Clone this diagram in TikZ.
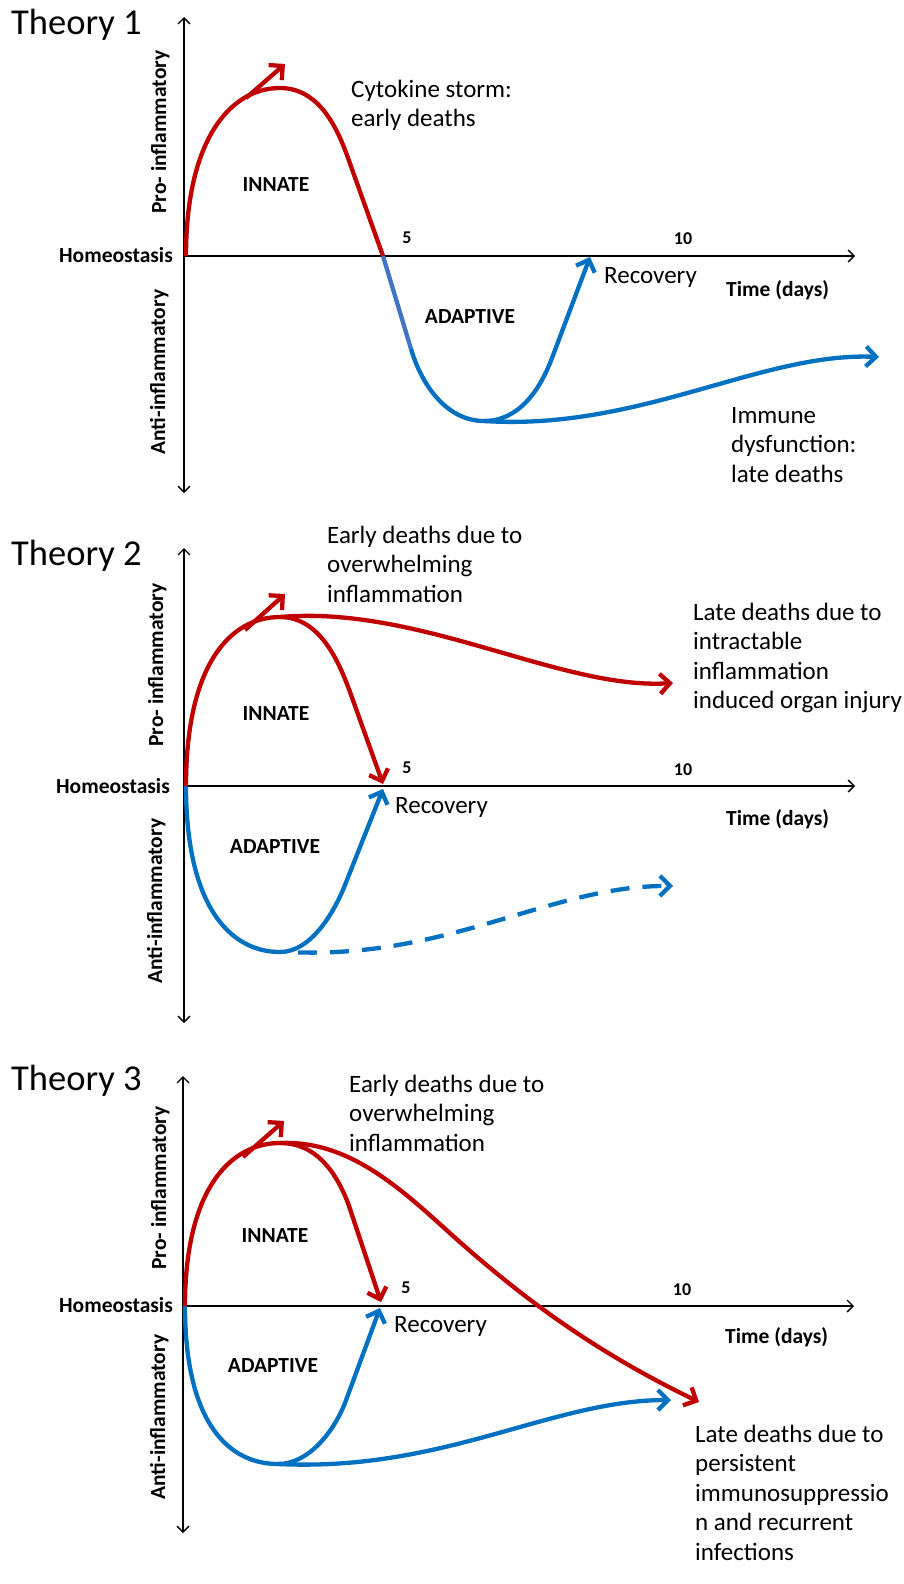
\documentclass[tikz,border=0pt]{standalone}
\usepackage{fontspec}
\setmainfont{Carlito}
\usetikzlibrary{arrows.meta}
\definecolor{cred}{RGB}{192,0,0}
\definecolor{cblue}{RGB}{0,112,192}
\definecolor{cmid}{RGB}{68,114,196}
\tikzset{
 axisline/.style={line width=1.3pt, draw=black},
 axarr/.style={-{Straight Barb[length=6pt,width=12pt]}},
 axarr2/.style={{Straight Barb[length=6pt,width=12pt]}-{Straight Barb[length=6pt,width=12pt]}},
 curve/.style={line width=4.3pt, line join=round},
 redc/.style={curve, draw=cred},
 bluec/.style={curve, draw=cblue},
 midc/.style={curve, draw=cmid},
 tipc/.style={-{Straight Barb[length=10pt,width=20pt]}},
 title/.style={font=\fontsize{36.5}{44}\selectfont, anchor=base west, inner sep=0pt},
 lbl/.style={font=\bfseries\fontsize{21.5}{26}\selectfont, inner sep=0pt},
 tick/.style={font=\bfseries\fontsize{18}{22}\selectfont, anchor=base, inner sep=0pt},
 body/.style={font=\fontsize{25}{29.5}\selectfont, align=left, anchor=north west, inner sep=0pt},
 bodyline/.style={font=\fontsize{25}{29.5}\selectfont, anchor=base west, inner sep=0pt},
 vlbl/.style={lbl, rotate=90, anchor=base},
}
\begin{document}
\begin{tikzpicture}[x=1pt,y=-1pt]
\useasboundingbox (0,0) rectangle (904,1584);

% ================= Theory 1 =================
\coordinate (v1b) at (184,493);
\coordinate (v1t) at (184,17);
\coordinate (h1a) at (184,256);
\coordinate (h1b) at (855,256);
\draw[axisline,axarr2] (v1b) -- (v1t);
\draw[axisline,axarr] (h1a) -- (h1b);

\node[title] (t1) at (11,35) {Theory 1};
\node[lbl,anchor=base east] (h1) at (173,262) {Homeostasis};
\node[vlbl] (pro1) at (166,132) {Pro- inflammatory};
\node[vlbl] (anti1) at (165,372) {Anti-inflammatory};
\node[lbl,anchor=base] (in1) at (276,191) {INNATE};
\node[lbl,anchor=base] (ad1) at (470,323) {ADAPTIVE};
\node[tick] (f1) at (407,243) {5};
\node[tick] (ten1) at (683,244) {10};
\node[bodyline] (rec1t) at (604,283) {Recovery};
\node[lbl,anchor=base west] (time1) at (726,296) {Time (days)};
\node[body] (cs1) at (351,76.35) {\strut Cytokine storm:\\early deaths};
\node[body] (im1) at (731,402.35) {\strut Immune\\dysfunction:\\late deaths};

\coordinate (O1) at (186,256);
\coordinate (pk1) at (280,88);
\coordinate (k1) at (348,158);
\coordinate (c1) at (383,256);
\coordinate (k1b) at (411,349);
\coordinate (bt1) at (484,421);
\coordinate (rk1) at (552,358);
\coordinate (rc1) at (590,257);
\coordinate (e1) at (879,357);
\coordinate (sa1) at (246,98);
\coordinate (sb1) at (285,64);

\draw[redc] (O1) .. controls +(0,-116) and +(-50,0) .. (pk1)
   .. controls +(40,0) and +(-10,-28) .. (k1) -- (c1);
\draw[redc,tipc] (sa1) -- (sb1);
\draw[midc] (c1) -- (k1b);
\draw[bluec] (k1b) .. controls +(12,40) and +(-35,0) .. (bt1);
\draw[bluec,tipc] (bt1) .. controls +(35,0) and +(-12,32) .. (rk1) -- (rc1);
\draw[bluec,tipc] (bt1) .. controls +(156,10) and +(-118,-5) .. (e1);

% ================= Theory 2 =================
\coordinate (v2b) at (184,1023);
\coordinate (v2t) at (184,548);
\coordinate (h2a) at (184,786);
\coordinate (h2b) at (855,786);
\draw[axisline,axarr2] (v2b) -- (v2t);
\draw[axisline,axarr] (h2a) -- (h2b);

\node[title] (t2) at (11,565) {Theory 2};
\node[lbl,anchor=base east] (h2) at (170,793) {Homeostasis};
\node[vlbl] (pro2) at (163,665) {Pro- inflammatory};
\node[vlbl] (anti2) at (162,901) {Anti-inflammatory};
\node[lbl,anchor=base] (in2) at (276,720) {INNATE};
\node[lbl,anchor=base] (ad2) at (275,853) {ADAPTIVE};
\node[tick] (f2) at (407,773) {5};
\node[tick] (ten2) at (683,775) {10};
\node[bodyline] (rec2t) at (395,813) {Recovery};
\node[lbl,anchor=base west] (time2) at (726,825) {Time (days)};
\node[body] (ed2) at (327,522.35) {\strut Early deaths due to\\overwhelming\\inflammation};
\node[body] (ld2) at (693,599.35) {\strut Late deaths due to\\intractable\\inflammation\\induced organ injury};

\coordinate (O2) at (186,786);
\coordinate (pk2) at (280,617);
\coordinate (k2) at (350,692);
\coordinate (tr2) at (383,784);
\coordinate (er2) at (673,683);
\coordinate (bt2) at (280,952);
\coordinate (kb2) at (345,885);
\coordinate (tb2) at (383,789);
\coordinate (db2) at (288,952);
\coordinate (eb2) at (673,886);
\coordinate (sa2) at (245,630);
\coordinate (sb2) at (285,594);

\draw[redc,tipc] (O2) .. controls +(0,-121) and +(-50,0) .. (pk2)
   .. controls +(40,0) and +(-11,-30) .. (k2) -- (tr2);
\draw[redc,tipc] (sa2) -- (sb2);
\draw[redc,tipc] (pk2) .. controls +(140,-12) and +(-112,7) .. (er2);
\draw[bluec,tipc] (O2) .. controls +(0,120) and +(-50,0) .. (bt2)
   .. controls +(30,0) and +(-12,30) .. (kb2) -- (tb2);
\draw[bluec,tipc,dash pattern=on 19pt off 13pt,dash phase=22pt] (db2) .. controls +(160,8) and +(-122,-1) .. (eb2);

% ================= Theory 3 =================
\coordinate (v3b) at (183,1533);
\coordinate (v3t) at (183,1076);
\coordinate (h3a) at (183,1306);
\coordinate (h3b) at (854,1306);
\draw[axisline,axarr2] (v3b) -- (v3t);
\draw[axisline,axarr] (h3a) -- (h3b);

\node[title] (t3) at (11,1090) {Theory 3};
\node[lbl,anchor=base east] (h3) at (173,1312) {Homeostasis};
\node[vlbl] (pro3) at (166,1188) {Pro- inflammatory};
\node[vlbl] (anti3) at (165,1417) {Anti-inflammatory};
\node[lbl,anchor=base] (in3) at (275,1242) {INNATE};
\node[lbl,anchor=base] (ad3) at (273,1372) {ADAPTIVE};
\node[tick] (f3) at (406,1293) {5};
\node[tick] (ten3) at (682,1295) {10};
\node[bodyline] (rec3t) at (394,1332) {Recovery};
\node[lbl,anchor=base west] (time3) at (725,1343) {Time (days)};
\node[body] (ed3) at (349,1071.35) {\strut Early deaths due to\\overwhelming\\inflammation};
\node[body] (ld3) at (695,1421.35) {\strut Late deaths due to\\persistent\\immunosuppressio\\n and recurrent\\infections};

\coordinate (O3) at (185,1306);
\coordinate (pk3) at (280,1143);
\coordinate (k3) at (348,1203);
\coordinate (tr3) at (381,1302);
\coordinate (m3) at (452,1235);
\coordinate (er3) at (699,1402);
\coordinate (bt3) at (278,1464);
\coordinate (kb3) at (345,1403);
\coordinate (tb3) at (380,1308);
\coordinate (eb3) at (671,1400);
\coordinate (sa3) at (243,1157);
\coordinate (sb3) at (284,1121);

\draw[redc,tipc] (O3) .. controls +(0,-116) and +(-50,0) .. (pk3)
   .. controls +(38,0) and +(-11,-28) .. (k3) -- (tr3);
\draw[redc,tipc] (sa3) -- (sb3);
\draw[redc,tipc] (pk3) .. controls +(70,-3) and +(-50,-45) .. (m3)
   .. controls +(78,70) and +(-97,-47) .. (er3);
\draw[bluec,tipc] (O3) .. controls +(0,116) and +(-50,0) .. (bt3)
   .. controls +(30,0) and +(-12,30) .. (kb3) -- (tb3);
\draw[bluec,tipc] (bt3) .. controls +(167,8) and +(-120,0) .. (eb3);
\end{tikzpicture}
\end{document}
